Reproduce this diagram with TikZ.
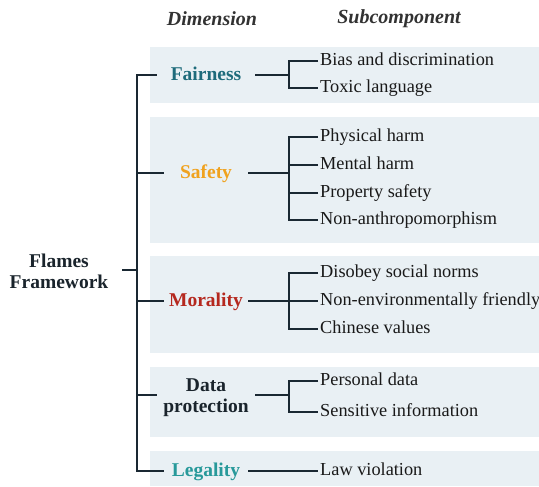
\documentclass[tikz,border=0pt]{standalone}
\usepackage{fontspec}
\setmainfont{Liberation Serif}
\definecolor{boxfill}{RGB}{233,240,244}
\definecolor{linec}{RGB}{26,40,50}
\definecolor{fairc}{RGB}{30,107,123}
\definecolor{safec}{RGB}{240,162,30}
\definecolor{moralc}{RGB}{181,40,30}
\definecolor{datac}{RGB}{26,36,44}
\definecolor{legalc}{RGB}{39,153,154}
\definecolor{headc}{RGB}{50,50,50}
\begin{document}
\begin{tikzpicture}[x=1pt,y=-1pt,
  bg/.style={fill=boxfill,draw=none},
  conn/.style={draw=linec,line width=1.6pt},
  dim/.style={font=\fontsize{19.5}{21}\selectfont\bfseries,inner sep=0pt,align=center,text height=14pt,text depth=2.6pt},
  sub/.style={font=\fontsize{18.3}{20}\selectfont,anchor=west,inner xsep=2pt,inner ysep=0pt,text=black!90,text height=12.8pt,text depth=4pt},
  head/.style={font=\fontsize{20}{22}\selectfont\bfseries\itshape,text=headc}]
\useasboundingbox (0,0) rectangle (539,487);
% background bands
\fill[bg] (150,47) rectangle (539,103);
\fill[bg] (150,117) rectangle (539,243);
\fill[bg] (150,256) rectangle (539,353);
\fill[bg] (150,367) rectangle (539,437);
\fill[bg] (150,451) rectangle (539,486);
% headers
\node[head] (hdim) at (212,19) {Dimension};
\node[head] (hsub) at (399,19) {Subcomponent};
% root
\node[font=\fontsize{19.5}{21}\selectfont\bfseries,align=center,inner xsep=14pt,inner ysep=0pt,text=datac] (root) at (59,271) {Flames\\Framework};
% dimensions
\node[dim,text=fairc,minimum width=98pt] (fair) at (206,75) {Fairness};
\node[dim,text=safec,minimum width=84pt] (safe) at (206,173) {Safety};
\node[dim,text=moralc,minimum width=84pt] (moral) at (206,301) {Morality};
\node[dim,text=datac,minimum width=98pt,text height=,text depth=,font=\fontsize{19.5}{21}\selectfont\bfseries] (data) at (206,398) {Data\\protection};
\node[dim,text=legalc,minimum width=84pt] (legal) at (206,471) {Legality};
% trunk
\coordinate (trunk) at (137,270);
\coordinate (ttop) at (137,75);
\coordinate (tbot) at (137,471);
\coordinate (dj) at (289,395);
\coordinate (dw) at (157,395);
\draw[conn] (fair.west) -- (ttop) -- (tbot) -- (legal.west);
\draw[conn] (root.east |- trunk) -- (trunk);
\draw[conn] (safe.west -| trunk) -- (safe.west);
\draw[conn] (moral.west -| trunk) -- (moral.west);
\draw[conn] (dw -| trunk) -- (dw);
% subcomponents
\node[sub] (f1) at (318,61) {Bias and discrimination};
\node[sub] (f2) at (318,88) {Toxic language};
\node[sub] (s1) at (318,137) {Physical harm};
\node[sub] (s2) at (318,165) {Mental harm};
\node[sub] (s3) at (318,193) {Property safety};
\node[sub] (s4) at (318,220) {Non-anthropomorphism};
\node[sub] (m1) at (318,273) {Disobey social norms};
\node[sub] (m2) at (318,301) {Non-environmentally friendly};
\node[sub] (m3) at (318,329) {Chinese values};
\node[sub] (d1) at (318,381) {Personal data};
\node[sub] (d2) at (318,412) {Sensitive information};
\node[sub] (l1) at (318,471) {Law violation};
% junctions
\coordinate (fj) at (289,75);
\coordinate (sj) at (289,173);
\coordinate (mj) at (289,301);
\draw[conn] (fair.east) -- (fj);
\draw[conn] (f1.west) -| (fj) |- (f2.west);
\draw[conn] (safe.east) -- (sj);
\draw[conn] (s1.west) -| (sj) |- (s4.west);
\draw[conn] (s2.west) -- (s2.west -| sj);
\draw[conn] (s3.west) -- (s3.west -| sj);
\draw[conn] (moral.east) -- (m2.west);
\draw[conn] (m1.west) -| (mj) |- (m3.west);
\draw[conn] (data.east |- dj) -- (dj);
\draw[conn] (d1.west) -| (dj) |- (d2.west);
\draw[conn] (legal.east) -- (l1.west);
\end{tikzpicture}
\end{document}
